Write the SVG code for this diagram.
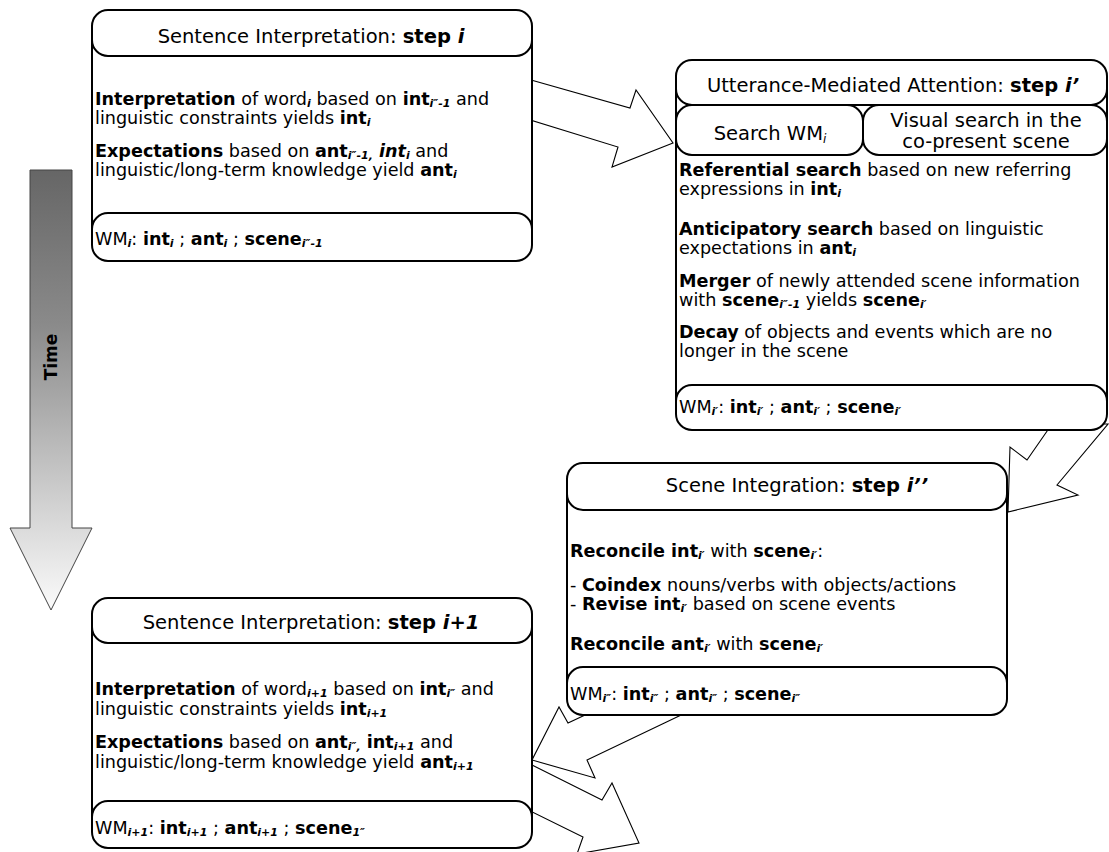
<svg xmlns="http://www.w3.org/2000/svg" width="1109" height="852" viewBox="0 0 1109 852">
<style>
text{font-family:"DejaVu Sans",Verdana,sans-serif;fill:#000}
.h{font-size:19.5px;text-anchor:middle}
.t{font-size:17.6px}
.b{font-weight:bold}
.bi{font-weight:bold;font-style:italic}
.sb{font-size:11px;font-weight:bold;font-style:italic}
.si{font-size:12px;font-style:italic}
.frame{fill:#fff;stroke:#000;stroke-width:2}
.cap{fill:#fff;stroke:#000;stroke-width:2}
.arw{fill:#fff;stroke:#000;stroke-width:1.1;stroke-linejoin:miter}
</style>
<defs>
<linearGradient id="tg" x1="0" y1="0" x2="0" y2="1">
<stop offset="0" stop-color="#666"/>
<stop offset="0.35" stop-color="#8a8a8a"/>
<stop offset="1" stop-color="#fbfbfb"/>
</linearGradient>
</defs>

<g id="time-arrow">
<polygon points="30,170 72,170 72,528 92,528 51,610 10,528 30,528" fill="url(#tg)" stroke="#444" stroke-width="1"/>
<text class="b" font-size="17px" text-anchor="middle" transform="translate(57,357) rotate(-90)">Time</text>
</g>

<g id="connectors">
<polygon class="arw" points="524,78 630,108 636,90 673,143 612,167 618,147 524,118"/>
<polygon class="arw" points="1052,424 1027,460 1010,447 1008,512 1078,495 1057,485 1108,424"/>
<polygon class="arw" points="600,708 568,723 559,707 532,760 595,778 587,760 700,706"/>
<polygon class="arw" points="520,759 602,800 612,783 639,843 577,854 583,837 520,806"/>
</g>

<g id="sentence-step-i">
<rect class="frame" x="92" y="30" width="440" height="210"/>
<rect class="cap" x="92" y="10" width="440" height="46" rx="16"/>
<rect class="cap" x="92" y="213" width="440" height="48" rx="16"/>
<text class="h" x="311" y="43">Sentence Interpretation: <tspan class="b">step </tspan><tspan class="bi">i</tspan></text>
<text class="t" x="95" y="105"><tspan class="b">Interpretation</tspan> of word<tspan class="sb" dy="2">i</tspan><tspan dy="-2"> based on </tspan><tspan class="b">int</tspan><tspan class="sb" dy="2">i″-1</tspan><tspan dy="-2"> and</tspan></text>
<text class="t" x="95" y="124">linguistic constraints yields <tspan class="b">int</tspan><tspan class="sb" dy="2">i</tspan></text>
<text class="t" x="95" y="157"><tspan class="b">Expectations</tspan> based on <tspan class="b">ant</tspan><tspan class="sb" dy="2">i″-1,</tspan><tspan class="bi" dy="-2"> int</tspan><tspan class="sb" dy="2">i</tspan><tspan dy="-2"> and</tspan></text>
<text class="t" x="95" y="176">linguistic/long-term knowledge yield <tspan class="b">ant</tspan><tspan class="sb" dy="2">i</tspan></text>
<text class="t" x="95" y="245">WM<tspan class="sb" dy="2">i</tspan><tspan dy="-2">: </tspan><tspan class="b">int</tspan><tspan class="sb" dy="2">i</tspan><tspan dy="-2"> ; </tspan><tspan class="b">ant</tspan><tspan class="sb" dy="2">i</tspan><tspan dy="-2"> ; </tspan><tspan class="b">scene</tspan><tspan class="sb" dy="2">i″-1</tspan></text>
</g>

<g id="attention-step-i1">
<rect class="frame" x="676" y="80" width="431" height="330"/>
<rect class="cap" x="676" y="60" width="431" height="45" rx="16"/>
<rect class="cap" x="676" y="105" width="187" height="50" rx="16"/>
<rect class="cap" x="863" y="105" width="244" height="50" rx="16"/>
<rect class="cap" x="676" y="385" width="431" height="45" rx="16"/>
<text class="h" x="893" y="92">Utterance-Mediated Attention: <tspan class="b">step </tspan><tspan class="bi">i’</tspan></text>
<text class="h" x="770" y="140">Search WM<tspan class="si" dy="3">i</tspan></text>
<text class="h" x="986" y="127">Visual search in the</text>
<text class="h" x="986" y="148">co-present scene</text>
<text class="t" x="679" y="176"><tspan class="b">Referential search</tspan> based on new referring</text>
<text class="t" x="679" y="195">expressions in <tspan class="b">int</tspan><tspan class="sb" dy="2">i</tspan></text>
<text class="t" x="679" y="235"><tspan class="b">Anticipatory search</tspan> based on linguistic</text>
<text class="t" x="679" y="254">expectations in <tspan class="b">ant</tspan><tspan class="sb" dy="2">i</tspan></text>
<text class="t" x="679" y="287"><tspan class="b">Merger</tspan> of newly attended scene information</text>
<text class="t" x="679" y="306">with <tspan class="b">scene</tspan><tspan class="sb" dy="2">i″-1</tspan><tspan dy="-2"> yields </tspan><tspan class="b">scene</tspan><tspan class="sb" dy="2">i′</tspan></text>
<text class="t" x="679" y="338"><tspan class="b">Decay</tspan> of objects and events which are no</text>
<text class="t" x="679" y="357">longer in the scene</text>
<text class="t" x="679" y="413">WM<tspan class="sb" dy="2">i′</tspan><tspan dy="-2">: </tspan><tspan class="b">int</tspan><tspan class="sb" dy="2">i′</tspan><tspan dy="-2"> ; </tspan><tspan class="b">ant</tspan><tspan class="sb" dy="2">i′</tspan><tspan dy="-2"> ; </tspan><tspan class="b">scene</tspan><tspan class="sb" dy="2">i′</tspan></text>
</g>

<g id="scene-integration-step-i2">
<rect class="frame" x="567" y="485" width="440" height="205"/>
<rect class="cap" x="567" y="463" width="440" height="47" rx="16"/>
<rect class="cap" x="567" y="667" width="440" height="48" rx="16"/>
<text class="h" x="797" y="492">Scene Integration: <tspan class="b">step </tspan><tspan class="bi">i’’</tspan></text>
<text class="t" x="570" y="557"><tspan class="b">Reconcile int</tspan><tspan class="sb" dy="2">i′</tspan><tspan dy="-2"> with </tspan><tspan class="b">scene</tspan><tspan class="sb" dy="2">i′</tspan><tspan dy="-2">:</tspan></text>
<text class="t" x="570" y="591">- <tspan class="b">Coindex</tspan> nouns/verbs with objects/actions</text>
<text class="t" x="570" y="610">- <tspan class="b">Revise int</tspan><tspan class="sb" dy="2">i′</tspan><tspan dy="-2"> based on scene events</tspan></text>
<text class="t" x="570" y="650"><tspan class="b">Reconcile ant</tspan><tspan class="sb" dy="2">i′</tspan><tspan dy="-2"> with </tspan><tspan class="b">scene</tspan><tspan class="sb" dy="2">i′</tspan></text>
<text class="t" x="570" y="700">WM<tspan class="sb" dy="2">i″</tspan><tspan dy="-2">: </tspan><tspan class="b">int</tspan><tspan class="sb" dy="2">i″</tspan><tspan dy="-2"> ; </tspan><tspan class="b">ant</tspan><tspan class="sb" dy="2">i″</tspan><tspan dy="-2"> ; </tspan><tspan class="b">scene</tspan><tspan class="sb" dy="2">i″</tspan></text>
</g>

<g id="sentence-step-i-plus-1">
<rect class="frame" x="92" y="620" width="440" height="205"/>
<rect class="cap" x="92" y="598" width="440" height="45" rx="16"/>
<rect class="cap" x="92" y="801" width="440" height="47" rx="16"/>
<text class="h" x="311" y="629">Sentence Interpretation: <tspan class="b">step </tspan><tspan class="bi">i+1</tspan></text>
<text class="t" x="95" y="695"><tspan class="b">Interpretation</tspan> of word<tspan class="sb" dy="2">i+1</tspan><tspan dy="-2"> based on </tspan><tspan class="b">int</tspan><tspan class="sb" dy="2">i″</tspan><tspan dy="-2"> and</tspan></text>
<text class="t" x="95" y="715">linguistic constraints yields <tspan class="b">int</tspan><tspan class="sb" dy="2">i+1</tspan></text>
<text class="t" x="95" y="748"><tspan class="b">Expectations</tspan> based on <tspan class="b">ant</tspan><tspan class="sb" dy="2">i″,</tspan><tspan class="b" dy="-2"> int</tspan><tspan class="sb" dy="2">i+1</tspan><tspan dy="-2"> and</tspan></text>
<text class="t" x="95" y="768">linguistic/long-term knowledge yield <tspan class="b">ant</tspan><tspan class="sb" dy="2">i+1</tspan></text>
<text class="t" x="95" y="834">WM<tspan class="sb" dy="2">i+1</tspan><tspan dy="-2">: </tspan><tspan class="b">int</tspan><tspan class="sb" dy="2">i+1</tspan><tspan dy="-2"> ; </tspan><tspan class="b">ant</tspan><tspan class="sb" dy="2">i+1</tspan><tspan dy="-2"> ; </tspan><tspan class="b">scene</tspan><tspan class="sb" dy="2">1″</tspan></text>
</g>
</svg>
